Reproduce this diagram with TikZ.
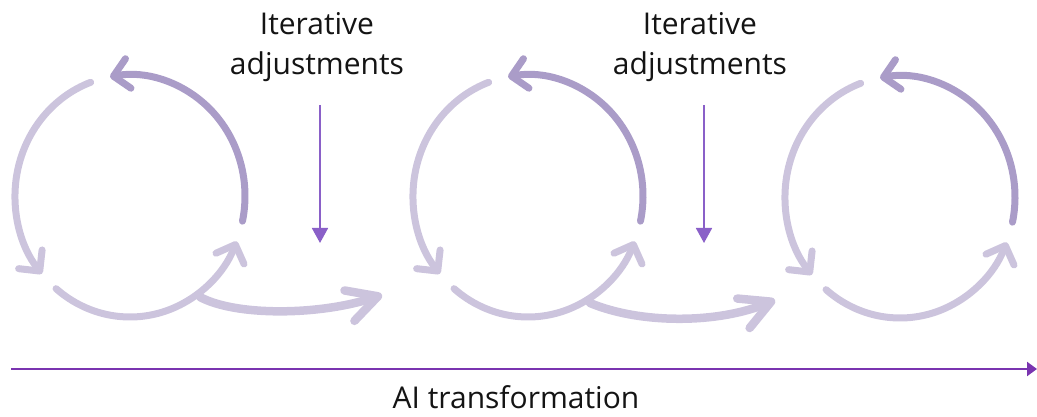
\documentclass[tikz,border=0pt]{standalone}
\usepackage{fontspec}
\setmainfont{Open Sans}
\usetikzlibrary{arrows.meta,calc}
\definecolor{arcdark}{RGB}{170,156,200}
\definecolor{arclight}{RGB}{204,196,221}
\definecolor{adjpurple}{RGB}{138,96,200}
\definecolor{axispurple}{RGB}{122,52,176}
\definecolor{txt}{RGB}{20,20,20}
\tikzset{
  loopdark/.style={draw=arcdark,line width=7pt,line cap=round,-{Straight Barb[length=15pt,width=30pt,round]}},
  looplight/.style={draw=arclight,line width=7pt,line cap=round,-{Straight Barb[length=15pt,width=30pt,round]}},
  looplinker/.style={draw=arclight,line width=8.5pt,line cap=round,-{Straight Barb[length=30pt,width=32pt,round]}},
  adjarrow/.style={draw=adjpurple,line width=1.8pt,-{Triangle[length=15pt,width=16pt]}},
  axisarrow/.style={draw=axispurple,line width=2.2pt,-{Triangle[length=10pt,width=14pt]}},
  lbl/.style={font=\fontsize{30}{40}\selectfont,text=txt,inner sep=0pt},
  lbltwo/.style={lbl,align=center}
}
\newcommand{\cyclearcs}[1]{%
  \draw[loopdark] ($(#1)+(-12:115 and 121)$) arc[start angle=-12,end angle=100,x radius=115,y radius=121];
  \draw[looplight] ($(#1)+(110:115 and 121)$) arc[start angle=110,end angle=220,x radius=115,y radius=121];
  \draw[looplight] ($(#1)+(230:115 and 121)$) arc[start angle=230,end angle=338,x radius=115,y radius=121];
}
\begin{document}
\begin{tikzpicture}[x=1pt,y=1pt]
\useasboundingbox (0,0) rectangle (1037,417);
% cycle centres
\coordinate (c1) at (130,221);
\coordinate (c2) at (528,221);
\coordinate (c3) at (900,220);
\cyclearcs{c1}
\cyclearcs{c2}
\cyclearcs{c3}
% linking arrows
\coordinate (l1s) at (200,120);
\coordinate (l1e) at (382,122);
\coordinate (l2s) at (590,114);
\coordinate (l2e) at (775,117);
\draw[looplinker] (l1s) .. controls (235,101) and (318,101) .. (l1e);
\draw[looplinker] (l2s) .. controls (640,93) and (718,93) .. (l2e);
% iterative adjustments
\node[lbltwo,anchor=base] (t1) at (317,342) {Iterative\\adjustments};
\node[lbltwo,anchor=base] (t2) at (700,342) {Iterative\\adjustments};
\coordinate (a1s) at (320,312);
\coordinate (a1e) at (320,174);
\coordinate (a2s) at (704,312);
\coordinate (a2e) at (704,174);
\draw[adjarrow] (a1s) -- (a1e);
\draw[adjarrow] (a2s) -- (a2e);
% axis
\coordinate (xs) at (11,48);
\coordinate (xe) at (1037,48);
\draw[axisarrow] (xs) -- (xe);
\node[lbl,anchor=base] (xl) at (516,8) {AI transformation};
\end{tikzpicture}
\end{document}
